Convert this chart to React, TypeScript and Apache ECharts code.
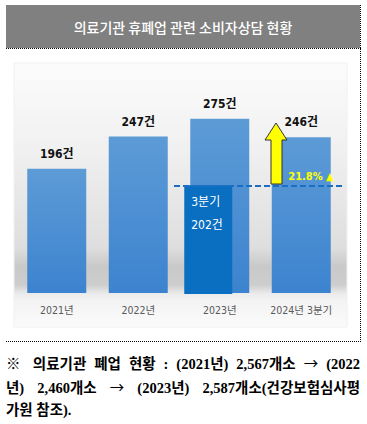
import React, { useEffect, useRef } from "react";
import * as echarts from "echarts";

const TITLE = "의료기관 휴폐업 관련 소비자상담 현황";
const categories = ["2021년", "2022년", "2023년", "2024년 3분기"];
const counts = [196, 247, 275, 246];
const quarter3Values: (number | string)[] = ["-", "-", 202, "-"];
const quarter3Label = "3분기";
const growthLabel = "21.8% ▲";
const footLines = [
  "※ 의료기관 폐업 현황 : (2021년) 2,567개소 → (2022",
  "년) 2,460개소 → (2023년) 2,587개소(건강보험심사평",
  "가원 참조).",
];

export default function App() {
  const ref = useRef<HTMLDivElement>(null);
  useEffect(() => {
    document.body.style.margin = "0";
    const chart = echarts.init(ref.current!, null, { renderer: "svg" });
    const labelFont = "'Liberation Sans Narrow', 'DejaVu Sans Condensed', 'Noto Sans CJK KR', sans-serif";
    chart.setOption({
      animation: false,
      backgroundColor: "#ffffff",
      grid: [
        { left: 16, width: 326, top: 103, height: 190 },
        { left: 4.5, width: 326, top: 103, height: 191 },
      ],
      xAxis: [
        {
          type: "category",
          gridIndex: 0,
          data: categories,
          axisLine: { show: false },
          axisTick: { show: false },
          axisLabel: {
            margin: 12,
            color: "#595959",
            fontSize: 10.5,
            fontFamily: labelFont,
          },
        },
        {
          type: "category",
          gridIndex: 1,
          data: categories,
          show: false,
        },
      ],
      yAxis: [
        { type: "value", gridIndex: 0, min: 0, max: 300, show: false },
        { type: "value", gridIndex: 1, min: 0, max: 355, show: false },
      ],
      graphic: [
        {
          type: "rect",
          z: -10,
          silent: true,
          shape: { x: 14, y: 63, width: 333, height: 264 },
          style: {
            fill: new echarts.graphic.LinearGradient(0, 0, 0, 1, [
              { offset: 0, color: "#fcfcfc" },
              { offset: 0.33, color: "#f0f0f0" },
              { offset: 0.7, color: "#dedede" },
              { offset: 0.77, color: "#c9c9c9" },
              { offset: 0.84, color: "#cdcdcd" },
              { offset: 0.875, color: "#ececec" },
              { offset: 0.9, color: "#f3f3f3" },
              { offset: 1, color: "#fbfbfb" },
            ]),
            stroke: "#f0f0f0",
            lineWidth: 1,
          },
        },
        {
          type: "rect",
          silent: true,
          shape: { x: 6, y: 5, width: 354, height: 43 },
          style: { fill: "#808080" },
        },
        {
          type: "text",
          silent: true,
          x: 183,
          y: 27,
          style: {
            text: TITLE,
            fill: "#ffffff",
            fontSize: 14,
            fontWeight: 500,
            fontFamily: "'Noto Sans CJK KR', sans-serif",
            align: "center",
            verticalAlign: "middle",
          },
        },
        {
          type: "line",
          silent: true,
          shape: { x1: 6, y1: 48.5, x2: 361, y2: 48.5 },
          style: { stroke: "#000", lineWidth: 1, lineDash: [1, 1] },
        },
        {
          type: "line",
          silent: true,
          shape: { x1: 360.5, y1: 5, x2: 360.5, y2: 341 },
          style: { stroke: "#000", lineWidth: 1, lineDash: [1, 1] },
        },
        {
          type: "line",
          silent: true,
          shape: { x1: 6, y1: 341.5, x2: 361, y2: 341.5 },
          style: { stroke: "#000", lineWidth: 1, lineDash: [1, 1] },
        },
        {
          type: "polygon",
          silent: true,
          z: 20,
          shape: {
            points: [
              [276, 123],
              [287, 140],
              [282, 140],
              [282, 184],
              [271, 184],
              [271, 140],
              [265, 140],
            ],
          },
          style: { fill: "#ffff00", stroke: "#333333", lineWidth: 1 },
        },
        {
          type: "text",
          silent: true,
          z: 20,
          x: 311,
          y: 176,
          style: {
            text: growthLabel,
            fill: "#ffff00",
            fontSize: 11,
            fontWeight: "bold",
            fontFamily: labelFont,
            align: "center",
            verticalAlign: "middle",
          },
        },
      ],
      series: [
        {
          type: "bar",
          xAxisIndex: 0,
          yAxisIndex: 0,
          data: counts,
          barWidth: 59,
          itemStyle: {
            color: new echarts.graphic.LinearGradient(0, 0, 0, 1, [
              { offset: 0, color: "#5d9bd6" },
              { offset: 1, color: "#3c83cf" },
            ]),
          },
          label: {
            show: true,
            position: "top",
            distance: 9,
            formatter: "{c}건",
            color: "#111111",
            fontSize: 12,
            fontWeight: "bold",
            fontFamily: labelFont,
          },
        },
        {
          type: "bar",
          xAxisIndex: 1,
          yAxisIndex: 1,
          data: quarter3Values,
          barWidth: 48,
          z: 3,
          itemStyle: { color: "#0a6fc1" },
          label: {
            show: true,
            position: [7, 5],
            formatter: (p: any) => quarter3Label + "\n" + p.value + "건",
            color: "#ffffff",
            fontSize: 12,
            lineHeight: 23,
            fontFamily: labelFont,
          },
          markLine: {
            silent: true,
            symbol: "none",
            label: { show: false },
            lineStyle: { color: "#1a6fc4", width: 2, type: [6, 3] },
            data: [
              [
                { xAxis: categories[2], yAxis: 202, x: 174 },
                { xAxis: categories[3], yAxis: 202, x: 342 },
              ],
            ],
          },
        },
      ],
    });
    return () => chart.dispose();
  }, []);

  const renderLine = (l: string) => {
    const parts = l.split("→");
    const out: React.ReactNode[] = [];
    parts.forEach((p, j) => {
      out.push(<React.Fragment key={"p" + j}>{p}</React.Fragment>);
      if (j < parts.length - 1)
        out.push(
          <span key={"a" + j} style={{ fontFamily: "'Noto Sans CJK KR', sans-serif", fontWeight: 400 }}>
            →
          </span>
        );
    });
    return out;
  };

  return (
    <div style={{ position: "relative", width: 367, height: 424 }}>
      <div ref={ref} style={{ position: "absolute", left: 0, top: 0, width: 367, height: 424 }} />
      <div
        style={{
          position: "absolute",
          left: 6,
          top: 352,
          width: 354,
          fontFamily: "'Liberation Serif', 'Noto Sans CJK KR', serif",
          fontSize: 14.5,
          fontWeight: 600,
          lineHeight: "22.5px",
          color: "#000",
        }}
      >
        {footLines.map((l, i) => (
          <div
            key={i}
            style={{
              textAlign: "justify",
              textAlignLast: i < footLines.length - 1 ? "justify" : "left",
            }}
          >
            {renderLine(l)}
          </div>
        ))}
      </div>
    </div>
  );
}
